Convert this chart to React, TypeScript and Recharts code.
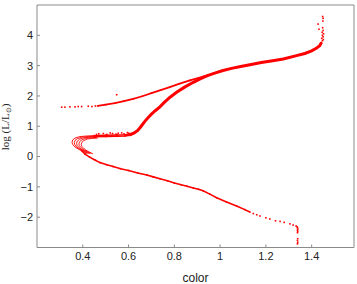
import { ScatterChart, Scatter, XAxis, YAxis, Label } from 'recharts';

const RED = '#ff0000';
const FRAME = '#8a8a8a';

const xTicks = [0.4, 0.6, 0.8, 1, 1.2, 1.4];
const yTicks = [-2, -1, 0, 1, 2, 3, 4];

// main sequence, dense part (turn-off down to ~1.13)
const msDense: [number, number][] = [
  [0.395, 0.2], [0.41, 0.08], [0.43, -0.02], [0.455, -0.12], [0.475, -0.2], [0.505, -0.27],
  [0.533, -0.33], [0.565, -0.4], [0.6, -0.46], [0.64, -0.54], [0.68, -0.61], [0.708, -0.67],
  [0.737, -0.73], [0.77, -0.8], [0.8, -0.87], [0.83, -0.93], [0.855, -0.98], [0.883, -1.04],
  [0.905, -1.08], [0.926, -1.13], [0.955, -1.24], [0.985, -1.36], [1.028, -1.5],
  [1.072, -1.63], [1.108, -1.75], [1.13, -1.83],
];
// sparse low-mass end
const msSparse: [number, number][] = [
  [1.145, -1.88], [1.16, -1.92], [1.174, -1.96], [1.2, -2.02], [1.217, -2.06], [1.242, -2.12],
  [1.262, -2.14], [1.28, -2.17], [1.305, -2.22], [1.319, -2.26], [1.332, -2.29], [1.337, -2.32],
];
const msTail: [number, number][] = [
  [1.338, -2.35], [1.339, -2.39], [1.338, -2.43], [1.339, -2.47], [1.338, -2.51],
  [1.339, -2.71], [1.338, -2.77], [1.339, -2.83], [1.338, -2.88],
];

// turn-off hooks (several ages)
const hook1: [number, number][] = [
  [0.42, 0.1], [0.4, 0.17], [0.38, 0.25], [0.365, 0.32], [0.356, 0.4], [0.353, 0.47],
  [0.356, 0.55], [0.366, 0.61], [0.388, 0.66], [0.42, 0.68], [0.45, 0.69],
];
const hook2: [number, number][] = [
  [0.426, 0.1], [0.407, 0.17], [0.388, 0.24], [0.374, 0.31], [0.365, 0.39], [0.363, 0.46],
  [0.366, 0.53], [0.376, 0.59], [0.396, 0.64], [0.424, 0.66], [0.452, 0.67],
];
const hook3: [number, number][] = [
  [0.432, 0.1], [0.414, 0.17], [0.396, 0.23], [0.383, 0.3], [0.375, 0.37], [0.373, 0.44],
  [0.376, 0.51], [0.386, 0.57], [0.404, 0.62], [0.429, 0.64], [0.456, 0.65],
];
const hook4: [number, number][] = [
  [0.438, 0.1], [0.421, 0.16], [0.405, 0.22], [0.393, 0.29], [0.385, 0.36], [0.383, 0.42],
  [0.386, 0.49], [0.396, 0.55], [0.412, 0.6], [0.435, 0.62], [0.46, 0.63],
];
const hook5: [number, number][] = [
  [0.444, 0.09], [0.428, 0.15], [0.414, 0.21], [0.403, 0.28], [0.395, 0.34], [0.393, 0.4],
  [0.396, 0.47], [0.405, 0.53], [0.42, 0.58], [0.442, 0.6], [0.466, 0.61],
];

// subgiant branch
const sgbLow: [number, number][] = [
  [0.45, 0.65], [0.5, 0.66], [0.55, 0.67], [0.585, 0.68], [0.605, 0.7], [0.62, 0.74],
];
const sgbHigh: [number, number][] = [
  [0.45, 0.69], [0.5, 0.7], [0.55, 0.71], [0.585, 0.72], [0.605, 0.74],
];
const sgbDots: [number, number][] = [
  [0.46, 0.73], [0.47, 0.75], [0.49, 0.76], [0.505, 0.73], [0.52, 0.78], [0.53, 0.76],
  [0.545, 0.74], [0.555, 0.77], [0.57, 0.78], [0.58, 0.75], [0.595, 0.79], [0.6, 0.77],
];

// lower red giant branch
const rgbLow: [number, number][] = [
  [0.605, 0.72], [0.625, 0.78], [0.64, 0.86], [0.65, 0.95], [0.66, 1.05], [0.672, 1.17],
  [0.685, 1.28], [0.7, 1.4], [0.718, 1.52], [0.737, 1.64], [0.755, 1.78], [0.78, 1.95],
  [0.81, 2.12], [0.845, 2.29], [0.883, 2.45], [0.915, 2.57], [0.945, 2.67], [0.98, 2.76],
  [1.013, 2.84],
];
// upper branch (HB / AGB)
const upper: [number, number][] = [
  [0.465, 1.67], [0.5, 1.71], [0.54, 1.76], [0.58, 1.83], [0.62, 1.9], [0.66, 1.99],
  [0.7, 2.09], [0.74, 2.19], [0.78, 2.29], [0.82, 2.4], [0.868, 2.51], [0.926, 2.64],
  [0.97, 2.74], [1.013, 2.84],
];
const hbDots: [number, number][] = [
  [0.308, 1.63], [0.322, 1.63], [0.344, 1.64], [0.366, 1.64], [0.38, 1.65], [0.395, 1.65],
  [0.424, 1.66], [0.44, 1.65], [0.455, 1.67], [0.548, 2.04],
];
// merged upper giant branch
const rgbHigh: [number, number][] = [
  [1.013, 2.84], [1.05, 2.91], [1.09, 2.97], [1.13, 3.03], [1.18, 3.1], [1.23, 3.16],
  [1.276, 3.22], [1.334, 3.33], [1.37, 3.4], [1.4, 3.49], [1.42, 3.57], [1.435, 3.66],
  [1.443, 3.76],
];
const tipDots: [number, number][] = [
  [1.447, 3.82], [1.451, 3.86], [1.444, 3.9], [1.45, 3.95], [1.447, 4.0], [1.452, 4.05],
  [1.446, 4.1], [1.45, 4.16], [1.432, 4.2], [1.448, 4.25], [1.428, 4.37], [1.449, 4.47],
  [1.45, 4.56], [1.448, 4.62],
];

const toPts = (a: [number, number][]) => a.map(([x, y]) => ({ x, y }));

const Dot = (p: any) => <rect x={p.cx - 0.8} y={p.cy - 0.8} width={1.6} height={1.6} fill={RED} />;
const NoDot = () => <g />;

const lines: { data: [number, number][]; w: number; dot: boolean }[] = [
  { data: msDense, w: 1.6, dot: true },
  { data: hook1, w: 0.9, dot: false },
  { data: hook2, w: 0.9, dot: false },
  { data: hook3, w: 0.9, dot: false },
  { data: hook4, w: 0.9, dot: false },
  { data: hook5, w: 0.9, dot: false },
  { data: sgbLow, w: 1.5, dot: true },
  { data: sgbHigh, w: 1.5, dot: true },
  { data: rgbLow, w: 3, dot: true },
  { data: upper, w: 1.8, dot: true },
  { data: rgbHigh, w: 3, dot: true },
];
const dots = [msSparse, msTail, sgbDots, hbDots, tipDots];

const tickStyle = { fontSize: 11, fill: '#222', fontFamily: 'Liberation Sans, Arial, sans-serif' };

const YLabel = () => (
  <text
    transform="translate(9,127) rotate(-90)"
    textAnchor="middle"
    fontFamily="Liberation Serif, Times New Roman, serif"
    fontSize={11}
    fill="#222"
  >
    log (L/L<tspan fontSize={7} dy={2}>⊙</tspan><tspan dy={-2}>)</tspan>
  </text>
);

export default function App() {
  return (
    <div style={{ position: 'absolute', left: 0, top: 0, background: '#fff' }}>
      <ScatterChart width={357} height={284} margin={{ top: 4, right: 2, bottom: 0, left: 0 }}>
        <XAxis
          type="number"
          dataKey="x"
          domain={[0.2, 1.585]}
          ticks={xTicks}
          allowDataOverflow
          height={36.5}
          stroke={FRAME}
          tickSize={-3}
          tickMargin={7.5}
          tick={tickStyle}
        >
          <Label value="color" position="insideBottom" offset={2.5} fontSize={12} fill="#222" fontFamily="Liberation Sans, Arial, sans-serif" />
        </XAxis>
        <XAxis
          xAxisId="top"
          orientation="top"
          type="number"
          dataKey="x"
          domain={[0.2, 1.585]}
          ticks={xTicks}
          allowDataOverflow
          height={1}
          stroke={FRAME}
          tickSize={-3}
          tick={false}
        />
        <YAxis
          type="number"
          dataKey="y"
          domain={[-3, 5]}
          ticks={yTicks}
          allowDataOverflow
          width={37}
          stroke={FRAME}
          tickSize={-3}
          tickMargin={7}
          tick={tickStyle}
          tickFormatter={(v: number) => (v < 0 ? `\u2212${-v}` : `${v}`)}
        >
          <Label content={<YLabel />} />
        </YAxis>
        <YAxis
          yAxisId="right"
          orientation="right"
          type="number"
          dataKey="y"
          domain={[-3, 5]}
          ticks={yTicks}
          allowDataOverflow
          width={1}
          stroke={FRAME}
          tickSize={-3}
          tick={false}
        />
        {lines.map((s, i) => (
          <Scatter
            key={'l' + i}
            data={toPts(s.data)}
            fill={RED}
            line={{ stroke: RED, strokeWidth: s.w }}
            shape={s.dot ? Dot : NoDot}
            isAnimationActive={false}
          />
        ))}
        {dots.map((d, i) => (
          <Scatter
            key={'d' + i}
            xAxisId="top"
            yAxisId="right"
            data={toPts(d)}
            fill={RED}
            shape={Dot}
            isAnimationActive={false}
          />
        ))}
      </ScatterChart>
    </div>
  );
}
